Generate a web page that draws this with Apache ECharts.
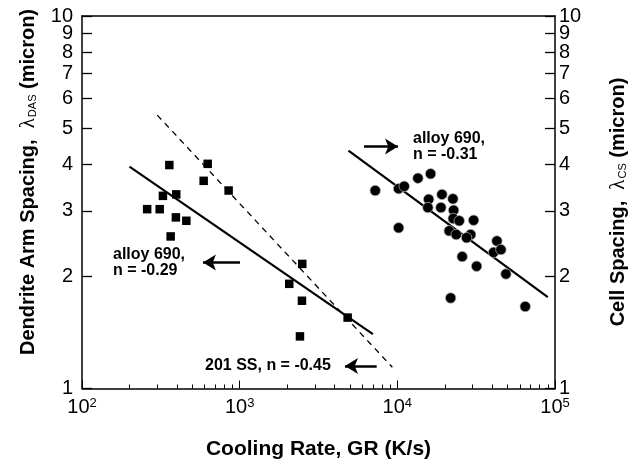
<!DOCTYPE html>
<html><head><meta charset="utf-8">
<script src="https://cdn.jsdelivr.net/npm/echarts@6/dist/echarts.min.js"></script>
<style>html,body{margin:0;padding:0;background:#fff}#c{width:628px;height:466px}</style>
</head><body><div id="c"></div>
<script>
// ---- data ----
const squareRate = [358, 627, 591, 851, 326, 396, 259, 311, 394, 459, 365, 2495, 2063, 2484, 4840, 2412];
const squareDAS  = [3.98, 4.01, 3.61, 3.40, 3.29, 3.32, 3.03, 3.03, 2.88, 2.82, 2.56, 2.16, 1.91, 1.72, 1.55, 1.38];

const circleRate = [7240, 10190, 11060, 10190, 13510, 16260, 15800, 15630, 19190, 18900, 22520, 22750, 22620, 24700, 30470, 21330, 23630, 29170, 27500, 25790, 31830, 42820, 40790, 45390, 48830, 21780, 64730];
const circleCS   = [3.40, 3.44, 3.49, 2.70, 3.67, 3.77, 3.22, 3.06, 3.32, 3.06, 3.23, 3.01, 2.86, 2.82, 2.83, 2.65, 2.59, 2.59, 2.54, 2.26, 2.13, 2.49, 2.32, 2.36, 2.03, 1.75, 1.66];

const fitDASRate = [200, 7000];
const fitDASVal  = [3.94, 1.40];
const fitSSRate  = [300, 9300];
const fitSSVal   = [5.42, 1.14];
const fitCSRate  = [4900, 90000];
const fitCSVal   = [4.35, 1.76];

const xDecadeExponents = [2, 3, 4, 5];
const xMinorMultipliers = [2, 3, 4, 5, 6, 7, 8, 9];
const yTickLabels = [1, 2, 3, 4, 5, 6, 7, 8, 9, 10];

// arrows: [tailRate, tailVal, headRate, headVal]
const arrow690CS  = [6145, 4.46, 10100, 4.46];
const arrow690DAS = [1005, 2.18, 585, 2.18];
const arrowSS     = [7396, 1.149, 4656, 1.149];

// ---- build ----
const zip = (a, b) => a.map((v, i) => [v, b[i]]);
const xMajor = xDecadeExponents.slice();
const xMinor = [];
for (let e = 2; e < 5; e++) xMinorMultipliers.forEach(m => xMinor.push(e + Math.log10(m)));
const yTicks = yTickLabels.map(v => Math.log10(v));
// split labels into two interleaved sets so ECharts' neighbour-overlap hiding never drops any
const yTicksOdd = yTicks.filter((v, i) => i % 2 === 0);   // 1,3,5,7,9
const yTicksEven = yTicks.filter((v, i) => i % 2 === 1);  // 2,4,6,8,10

const FONT = 'Arial, "Liberation Sans", Helvetica, sans-serif';
const AX = { lineStyle: { color: '#000', width: 1.5 } };
const yLabelFmt = v => String(Math.round(Math.pow(10, v)));

function yLabelAxis(pos, values, margin, withTicks, withLine) {
  return { type: 'value', min: 0, max: 1, position: pos,
    axisLine: { show: !!withLine, onZero: false, ...AX },
    axisTick: { show: !!withTicks, inside: true, length: 10, customValues: yTicks, lineStyle: { color: '#000', width: 1.3 } },
    axisLabel: { show: true, customValues: values, margin: margin, fontFamily: FONT, fontSize: 20, color: '#000',
      showMinLabel: true, showMaxLabel: true, hideOverlap: false, formatter: yLabelFmt },
    splitLine: { show: false } };
}

const chart = echarts.init(document.getElementById('c'), null, { renderer: 'canvas' });
chart.setOption({
  animation: false,
  backgroundColor: '#fff',
  grid: { left: 82, right: 73, top: 16, bottom: 77.5, containLabel: false },
  xAxis: [
    { type: 'log', logBase: 10, min: 100, max: 100000, position: 'bottom',
      axisLine: { show: true, onZero: false, ...AX }, axisTick: { show: false }, axisLabel: { show: false },
      splitLine: { show: false }, minorTick: { show: false },
      name: 'Cooling Rate, GR (K/s)', nameLocation: 'middle', nameGap: 50,
      nameTextStyle: { fontFamily: FONT, fontWeight: 'bold', fontSize: 21, color: '#000' } },
    { type: 'value', min: 2, max: 5, position: 'bottom',
      axisLine: { show: false, onZero: false },
      axisTick: { show: true, inside: true, length: 8, customValues: xMajor, lineStyle: { color: '#000', width: 1 } },
      axisLabel: { show: true, customValues: xMajor, margin: 8, showMinLabel: true, showMaxLabel: true,
        formatter: v => '{b|10}{s|' + Math.round(v) + '}',
        rich: { b: { fontFamily: FONT, fontSize: 20, color: '#000', lineHeight: 22 },
                s: { fontFamily: FONT, fontSize: 13, color: '#000', verticalAlign: 'top', lineHeight: 13, padding: [0, 0, 4, 0] } } },
      splitLine: { show: false } },
    { type: 'value', min: 2, max: 5, position: 'bottom',
      axisLine: { show: false, onZero: false },
      axisTick: { show: true, inside: true, length: 4, customValues: xMinor, lineStyle: { color: '#000', width: 1 } },
      axisLabel: { show: false }, splitLine: { show: false } },
    { type: 'value', min: 0, max: 1, position: 'top',
      axisLine: { show: true, onZero: false, ...AX }, axisTick: { show: false }, axisLabel: { show: false },
      splitLine: { show: false } }
  ],
  yAxis: [
    { type: 'log', logBase: 10, min: 1, max: 10, position: 'left',
      axisLine: { show: true, onZero: false, ...AX }, axisTick: { show: false }, axisLabel: { show: false },
      splitLine: { show: false }, minorTick: { show: false } },
    yLabelAxis('left', yTicksOdd, 9, true, false),
    yLabelAxis('left', yTicksEven, 9, false, false),
    yLabelAxis('right', yTicksOdd, 4, true, true),
    yLabelAxis('right', yTicksEven, 4, false, false)
  ],
  series: [
    { name: 'DAS fit', type: 'line', xAxisIndex: 0, yAxisIndex: 0, data: zip(fitDASRate, fitDASVal),
      showSymbol: false, symbol: 'none', lineStyle: { color: '#000', width: 2.2 }, z: 2, silent: true,
      markLine: { silent: true, symbol: ['none', 'arrow'], symbolSize: [12, 13], label: { show: false },
        lineStyle: { color: '#000', width: 2.5, type: 'solid' }, emphasis: { disabled: true },
        data: [
          [{ coord: [arrow690CS[0], arrow690CS[1]] }, { coord: [arrow690CS[2], arrow690CS[3]] }],
          [{ coord: [arrow690DAS[0], arrow690DAS[1]] }, { coord: [arrow690DAS[2], arrow690DAS[3]] }],
          [{ coord: [arrowSS[0], arrowSS[1]] }, { coord: [arrowSS[2], arrowSS[3]] }]
        ] } },
    { name: '201 SS fit', type: 'line', xAxisIndex: 0, yAxisIndex: 0, data: zip(fitSSRate, fitSSVal),
      showSymbol: false, symbol: 'none', lineStyle: { color: '#000', width: 1.3, type: [6, 5] }, z: 2, silent: true },
    { name: 'CS fit', type: 'line', xAxisIndex: 0, yAxisIndex: 0, data: zip(fitCSRate, fitCSVal),
      showSymbol: false, symbol: 'none', lineStyle: { color: '#000', width: 2.2 }, z: 2, silent: true },
    { name: 'alloy 690 DAS', type: 'scatter', xAxisIndex: 0, yAxisIndex: 0, data: zip(squareRate, squareDAS),
      symbol: 'rect', symbolSize: 8.5, itemStyle: { color: '#000', opacity: 1 }, z: 3 },
    { name: 'alloy 690 CS', type: 'scatter', xAxisIndex: 0, yAxisIndex: 0, data: zip(circleRate, circleCS),
      symbol: 'circle', symbolSize: 10.5, itemStyle: { color: '#000', borderColor: '#bbb', borderWidth: 0.7, opacity: 1 }, z: 3 }
  ],
  graphic: [
    { type: 'text', x: 28, y: 182, rotation: Math.PI / 2, silent: true,
      style: { text: '{b|Dendrite Arm Spacing,  }{l|λ}{s|DAS}{b| (micron)}',
        align: 'center', verticalAlign: 'middle', textAlign: 'center', textVerticalAlign: 'middle',
        rich: { b: { fontFamily: FONT, fontWeight: 'bold', fontSize: 20, fill: '#000' },
                l: { fontFamily: '"Liberation Serif", "DejaVu Serif", serif', fontSize: 21, fill: '#000' },
                s: { fontFamily: FONT, fontSize: 11, fill: '#000', verticalAlign: 'bottom', padding: [6, 0, 0, 1] } } } },
    { type: 'text', x: 618, y: 202, rotation: Math.PI / 2, silent: true,
      style: { text: '{b|Cell Spacing,  }{l|λ}{s|CS}{b| (micron)}',
        align: 'center', verticalAlign: 'middle', textAlign: 'center', textVerticalAlign: 'middle',
        rich: { b: { fontFamily: FONT, fontWeight: 'bold', fontSize: 20, fill: '#000' },
                l: { fontFamily: '"Liberation Serif", "DejaVu Serif", serif', fontSize: 21, fill: '#000' },
                s: { fontFamily: FONT, fontSize: 11, fill: '#000', verticalAlign: 'bottom', padding: [6, 0, 0, 1] } } } },
    { type: 'text', x: 413, y: 131, silent: true,
      style: { text: 'alloy 690,\nn = -0.31', fontFamily: FONT, fontWeight: 'bold', fontSize: 16, lineHeight: 16, fill: '#000' } },
    { type: 'text', x: 113, y: 247, silent: true,
      style: { text: 'alloy 690,\nn = -0.29', fontFamily: FONT, fontWeight: 'bold', fontSize: 16, lineHeight: 16, fill: '#000' } },
    { type: 'text', x: 205, y: 358, silent: true,
      style: { text: '201 SS, n = -0.45', fontFamily: FONT, fontWeight: 'bold', fontSize: 16, lineHeight: 16, fill: '#000' } }
  ]
});
</script>
</body></html>
